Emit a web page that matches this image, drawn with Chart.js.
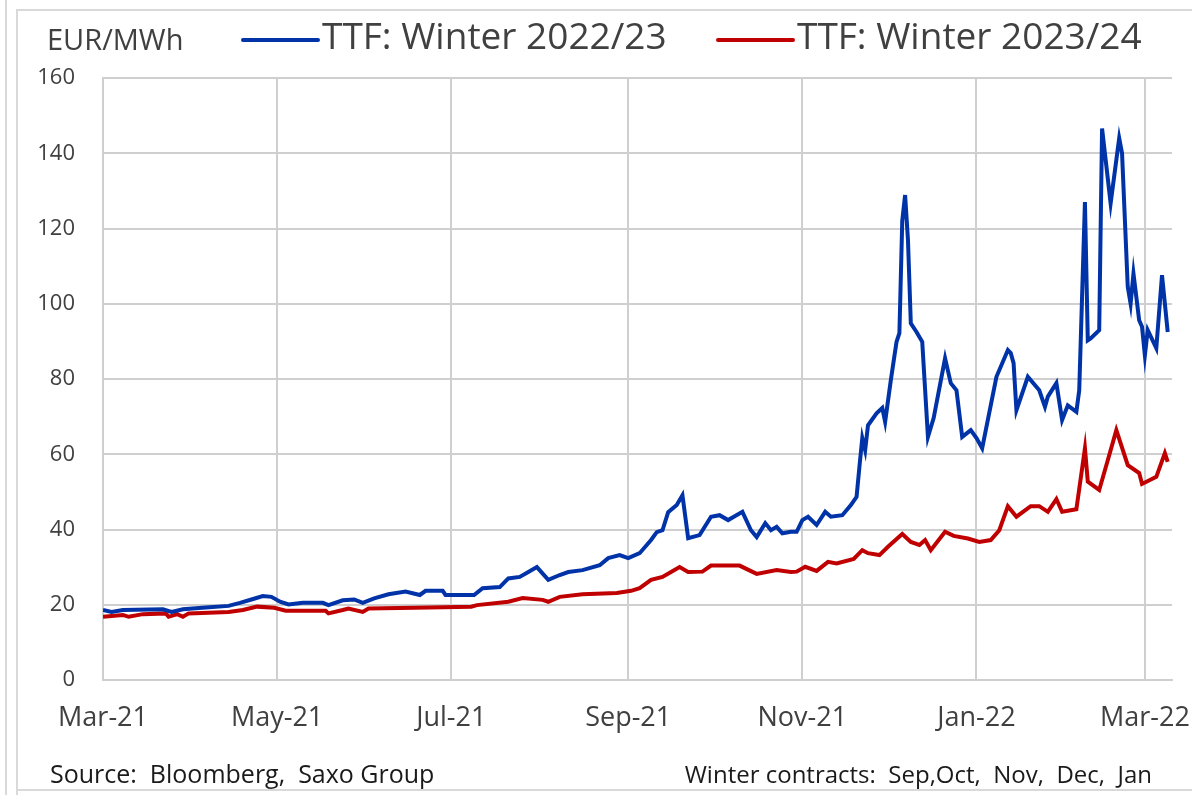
<!DOCTYPE html>
<html>
<head>
<meta charset="utf-8">
<script src="https://cdn.jsdelivr.net/npm/chart.js@4.4.1/dist/chart.umd.min.js"></script>
<style>
  html, body { margin: 0; padding: 0; background: #ffffff; }
  #wrap { width: 1192px; height: 795px; position: relative; }
</style>
</head>
<body>
<div id="wrap"><canvas id="c" width="1192" height="795"></canvas></div>
<script>
// ---- Data (days since 1 Mar 2021, EUR/MWh) ----
const seriesLabels = ["TTF: Winter 2022/23", "TTF: Winter 2023/24"];
const unitLabel = "EUR/MWh";
const sourceNote = "Source:  Bloomberg,  Saxo Group";
const contractNote = "Winter contracts:  Sep,Oct,  Nov,  Dec,  Jan";

const tickDays = [0, 61, 122, 184, 245, 306, 365];
const tickLabels = ["Mar-21", "May-21", "Jul-21", "Sep-21", "Nov-21", "Jan-22", "Mar-22"];

const blueDays = [0, 3, 7, 21, 24, 28, 36, 44, 48, 52, 56, 59, 62, 65, 70, 77, 79, 84, 88, 91, 95, 100, 106, 111, 113, 119, 120, 130, 133, 139, 142, 146, 149, 152, 156, 160, 163, 168, 174, 177, 181, 184, 188, 192, 194, 196, 198, 201, 203, 205, 209, 213, 216, 219, 221, 224, 227, 229, 232, 234, 236, 238, 241, 243, 245, 247, 250, 253, 255, 259, 262, 264, 265, 266, 267, 268, 271, 273, 274, 276, 278, 279, 280, 281, 282, 283, 285, 287, 289, 291, 295, 297, 299, 301, 304, 306, 308, 313, 317, 318, 319, 320, 324, 328, 330, 331, 334, 336, 338, 341, 342, 344, 345, 346, 349, 350, 353, 356, 357, 359, 360, 361, 363, 364, 365, 366, 369, 371, 373];
const blueValues = [18.6, 18.1, 18.6, 18.8, 18.1, 18.8, 19.3, 19.7, 20.5, 21.4, 22.3, 22.1, 20.8, 20.1, 20.5, 20.5, 19.9, 21.2, 21.4, 20.5, 21.7, 22.8, 23.5, 22.6, 23.7, 23.7, 22.6, 22.6, 24.4, 24.7, 27.0, 27.4, 28.7, 30.0, 26.6, 27.9, 28.7, 29.2, 30.5, 32.4, 33.2, 32.4, 33.7, 37.2, 39.3, 39.8, 44.6, 46.5, 49.1, 37.7, 38.5, 43.4, 43.8, 42.5, 43.4, 44.7, 39.8, 38.0, 41.7, 39.8, 40.7, 39.0, 39.4, 39.4, 42.5, 43.4, 41.2, 44.7, 43.4, 43.8, 46.5, 48.7, 56.7, 64.3, 61.1, 67.7, 70.9, 72.3, 68.6, 79.7, 89.9, 92.2, 122.0, 128.9, 117.0, 94.8, 92.5, 89.9, 64.6, 69.6, 85.5, 78.9, 77.0, 64.6, 66.4, 64.3, 61.6, 80.6, 87.7, 86.9, 84.2, 71.7, 80.6, 77.0, 72.6, 75.3, 78.9, 69.1, 73.0, 71.3, 77.0, 127.0, 90.3, 90.8, 93.0, 146.6, 126.7, 144.0, 140.0, 104.5, 100.0, 108.0, 95.6, 93.9, 86.3, 93.0, 88.2, 107.6, 92.5];

const redDays = [0, 7, 9, 14, 22, 23, 26, 28, 30, 44, 49, 54, 60, 64, 78, 79, 84, 86, 91, 93, 109, 129, 131, 142, 147, 154, 156, 160, 168, 180, 185, 188, 192, 196, 199, 202, 205, 210, 213, 223, 229, 236, 241, 243, 246, 250, 254, 257, 263, 266, 268, 272, 275, 280, 283, 286, 288, 290, 295, 298, 303, 307, 311, 314, 317, 320, 325, 328, 331, 334, 336, 341, 344, 345, 349, 352, 355, 359, 363, 364, 369, 372, 373];
const redValues = [16.8, 17.3, 16.8, 17.5, 17.7, 16.8, 17.5, 16.8, 17.7, 18.1, 18.6, 19.5, 19.2, 18.4, 18.4, 17.7, 18.6, 19.0, 18.1, 19.0, 19.2, 19.5, 19.9, 20.8, 21.8, 21.3, 20.8, 22.1, 22.8, 23.1, 23.7, 24.4, 26.6, 27.4, 28.7, 30.0, 28.7, 28.8, 30.4, 30.4, 28.2, 29.2, 28.7, 28.8, 30.1, 29.0, 31.4, 31.0, 32.2, 34.5, 33.7, 33.2, 35.4, 38.8, 36.7, 35.9, 37.2, 34.5, 39.4, 38.3, 37.6, 36.7, 37.2, 39.8, 46.2, 43.4, 46.2, 46.2, 44.7, 48.1, 44.7, 45.4, 61.6, 52.7, 50.5, 58.4, 66.4, 57.1, 55.0, 52.1, 54.0, 60.3, 58.0];

const blueColor = "#0033a8";
const redColor = "#c00000";
const gridColor = "#cfcfcf";
const textColor = "#404040";
const FONT = "'Open Sans', 'Noto Sans', sans-serif";

function pts(xs, ys) { return xs.map((x, i) => ({ x: x, y: ys[i] })); }

const decor = {
  id: "decor",
  beforeDraw(chart) {
    const ctx = chart.ctx;
    ctx.save();
    ctx.fillStyle = "#ffffff";
    ctx.fillRect(0, 0, chart.width, chart.height);
    ctx.strokeStyle = "#d9d9d9";
    ctx.lineWidth = 2;
    ctx.beginPath();
    ctx.moveTo(6, 0); ctx.lineTo(6, 795);
    ctx.moveTo(17, 795); ctx.lineTo(17, 10); ctx.lineTo(1192, 10);
    ctx.moveTo(17, 790); ctx.lineTo(1192, 790);
    ctx.stroke();
    ctx.restore();
  },
  afterDraw(chart) {
    const ctx = chart.ctx;
    ctx.save();
    ctx.textBaseline = "middle";
    ctx.fillStyle = textColor;
    ctx.font = "29px " + FONT;
    ctx.textAlign = "left";
    ctx.fillText(unitLabel, 47, 42);
    const items = [
      { x0: 243, x1: 318, tx: 322, ds: chart.data.datasets[0] },
      { x0: 718, x1: 793, tx: 797, ds: chart.data.datasets[1] }
    ];
    items.forEach(it => {
      ctx.strokeStyle = it.ds.borderColor;
      ctx.lineWidth = 4;
      ctx.lineCap = "round";
      ctx.beginPath();
      ctx.moveTo(it.x0, 40); ctx.lineTo(it.x1, 40);
      ctx.stroke();
      ctx.fillStyle = textColor;
      ctx.font = "37px " + FONT;
      ctx.fillText(it.ds.label, it.tx, 38);
    });
    ctx.fillStyle = "#1a1a1a";
    ctx.font = "25px " + FONT;
    ctx.textAlign = "left";
    ctx.fillText(sourceNote, 50, 776);
    ctx.font = "24px " + FONT;
    ctx.textAlign = "right";
    ctx.fillText(contractNote, 1152, 776);
    ctx.restore();
  }
};

new Chart(document.getElementById("c"), {
  type: "line",
  data: {
    datasets: [
      { label: seriesLabels[0], data: pts(blueDays, blueValues), borderColor: blueColor, backgroundColor: blueColor, borderWidth: 4, pointRadius: 0, tension: 0, fill: false },
      { label: seriesLabels[1], data: pts(redDays, redValues), borderColor: redColor, backgroundColor: redColor, borderWidth: 4, pointRadius: 0, tension: 0, fill: false }
    ]
  },
  options: {
    responsive: false,
    animation: false,
    devicePixelRatio: 1,
    layout: { padding: { top: 78, right: 20, left: 0, bottom: 0 } },
    plugins: { legend: { display: false }, tooltip: { enabled: false } },
    scales: {
      x: {
        type: "linear",
        min: 0,
        max: 374.5,
        afterBuildTicks(axis) { axis.ticks = tickDays.map(v => ({ value: v })); },
        afterFit(axis) { axis.height = 115; axis.paddingRight = 0; axis.paddingLeft = 0; },
        ticks: {
          autoSkip: false, maxRotation: 0, minRotation: 0,
          padding: 22,
          color: textColor,
          font: { family: FONT, size: 27 },
          callback: (v, i) => tickLabels[i]
        },
        grid: { color: gridColor, lineWidth: 2, drawTicks: false },
        border: { display: true, color: gridColor, width: 2 }
      },
      y: {
        min: 0,
        max: 160,
        afterFit(axis) { axis.width = 103; axis.paddingTop = 0; axis.paddingBottom = 0; },
        ticks: {
          stepSize: 20,
          padding: 28,
          color: textColor,
          font: { family: FONT, size: 22 }
        },
        grid: { color: gridColor, lineWidth: 2, drawTicks: false },
        border: { display: true, color: gridColor, width: 2 }
      }
    }
  },
  plugins: [decor]
});
</script>
</body>
</html>
